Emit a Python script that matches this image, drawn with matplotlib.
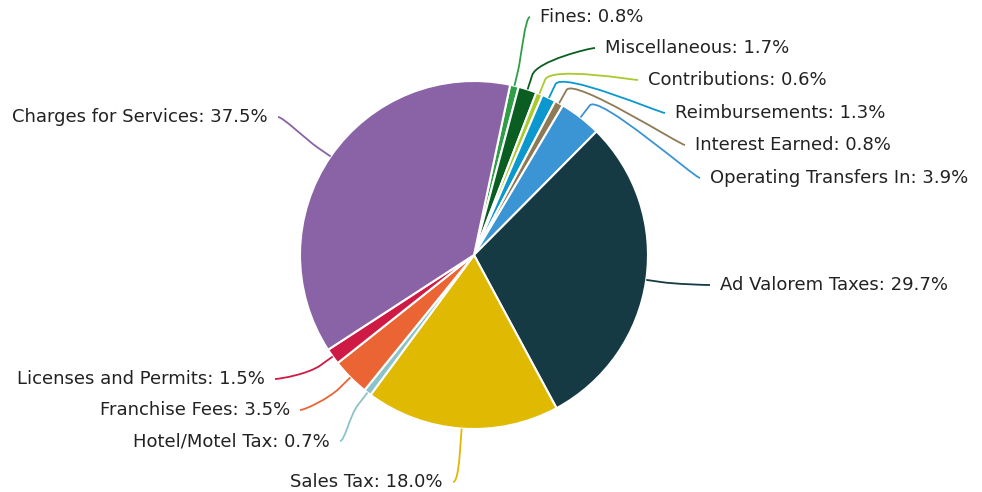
import numpy as np
import matplotlib.pyplot as plt
from matplotlib.path import Path
from matplotlib.patches import PathPatch

# revenue shares (%), clockwise from the Charges/Fines boundary
categories = ['Fines', 'Miscellaneous', 'Contributions', 'Reimbursements',
              'Interest Earned', 'Operating Transfers In', 'Ad Valorem Taxes',
              'Sales Tax', 'Hotel/Motel Tax', 'Franchise Fees',
              'Licenses and Permits', 'Charges for Services']
shares = [0.8, 1.7, 0.6, 1.3, 0.8, 3.9, 29.7, 18.0, 0.7, 3.5, 1.5, 37.5]
colors = ['#2f9e48', '#0b5e21', '#a9c92c', '#0b98cf', '#8e7a55', '#3b94d4',
          '#163a44', '#e0b902', '#8cc3c9', '#eb6534', '#cf1a45', '#8a63a6']

# label layout (image pixels): text edge x, text centre y
label_x = [540, 605, 648, 675, 695, 710, 720, 443, 330, 290, 265, 268]
label_y = [17, 48, 80, 113, 145, 178, 285, 482, 441, 410, 379, 117]

W, H = 982, 492
cx, cy, r = 474, H - 255, 174
start = 12.0  # degrees clockwise from 12 o'clock

fig = plt.figure(figsize=(W / 100, H / 100), dpi=100)
ax = fig.add_axes([0, 0, 1, 1])
ax.axis('off')

ax.pie(shares, colors=colors, center=(cx, cy), radius=r,
       startangle=90 - start, counterclock=False,
       wedgeprops=dict(edgecolor='white', linewidth=1.5))
ax.set_xlim(0, W)
ax.set_ylim(0, H)
ax.set_aspect('equal')

total = sum(shares)
cum = start
for name, val, col, tx, ty in zip(categories, shares, colors, label_x, label_y):
    span = val / total * 360
    mid = np.radians(cum + span / 2)
    cum += span
    ty = H - ty
    right = np.sin(mid) >= 0
    s = 1 if right else -1

    def pt(rad):
        return (cx + rad * np.sin(mid), cy + rad * np.cos(mid))

    # soft connector: label -> bend outside the pie -> slice edge
    E, B, C2 = pt(r), pt(r + 15), pt(r + 30)
    verts = [(tx - 10 * s, ty), (tx - 15 * s, ty), C2, B, E]
    codes = [Path.MOVETO, Path.CURVE4, Path.CURVE4, Path.CURVE4, Path.LINETO]
    ax.add_patch(PathPatch(Path(verts, codes), facecolor='none',
                           edgecolor=col, lw=1.3))
    ax.text(tx, ty, f'{name}: {val:.1f}%', ha='left' if right else 'right',
            va='center', fontsize=13, color='#222222')

plt.savefig('out.png', dpi=100)
